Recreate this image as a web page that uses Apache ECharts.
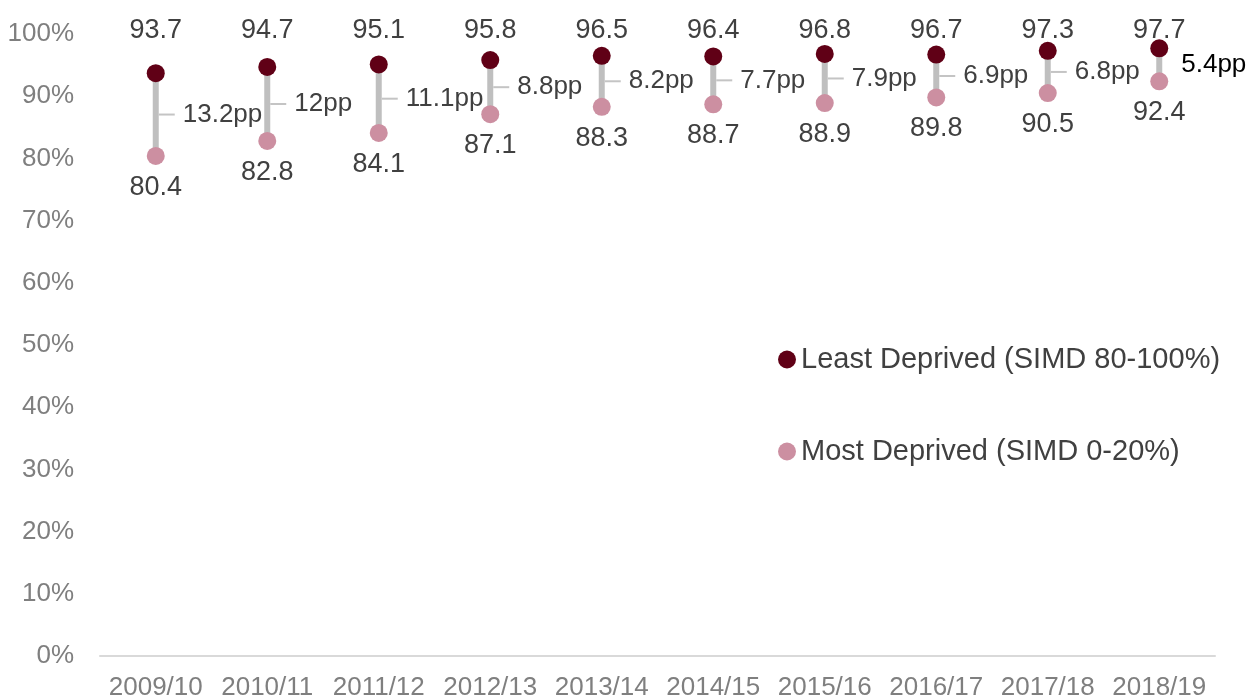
<!DOCTYPE html>
<html>
<head>
<meta charset="utf-8">
<script src="https://cdn.jsdelivr.net/npm/echarts@6/dist/echarts.min.js"></script>
<style>
html,body{margin:0;padding:0;background:#fff;}
#chart{width:1250px;height:697px;}
</style>
</head>
<body>
<div id="chart"></div>
<script>
const categories = ['2009/10','2010/11','2011/12','2012/13','2013/14','2014/15','2015/16','2016/17','2017/18','2018/19'];
const leastDeprived = [93.7, 94.7, 95.1, 95.8, 96.5, 96.4, 96.8, 96.7, 97.3, 97.7];
const mostDeprived = [80.4, 82.8, 84.1, 87.1, 88.3, 88.7, 88.9, 89.8, 90.5, 92.4];
const gapLabels = ['13.2', '12', '11.1', '8.8', '8.2', '7.7', '7.9', '6.9', '6.8', '5.4'];
const yTicks = [0, 10, 20, 30, 40, 50, 60, 70, 80, 90, 100];

const FONT = '"Liberation Sans", Arial, sans-serif';
const LEAST_COLOR = '#600016';
const MOST_COLOR = '#cc8fa1';

const gapData = categories.map((c, i) => [i, leastDeprived[i], mostDeprived[i], gapLabels[i]]);

const chart = echarts.init(document.getElementById('chart'));
chart.setOption({
  animation: false,
  backgroundColor: '#ffffff',
  grid: { left: 100, right: 35, top: 34, bottom: 41, containLabel: false, outerBoundsMode: 'none' },
  legend: {
    data: ['Least Deprived (SIMD 80-100%)', 'Most Deprived (SIMD 0-20%)'],
    orient: 'vertical',
    left: 773,
    top: 340,
    itemWidth: 18,
    itemHeight: 18,
    itemGap: 63,
    icon: 'circle',
    textStyle: { fontFamily: FONT, fontSize: 29, color: '#404040' }
  },
  xAxis: {
    type: 'category',
    data: categories,
    axisLine: { lineStyle: { color: '#d9d9d9', width: 2 } },
    axisTick: { show: false },
    axisLabel: { fontFamily: FONT, fontSize: 26, color: '#7f7f7f', margin: 19, interval: 0 },
    splitLine: { show: false }
  },
  yAxis: {
    type: 'value',
    min: 0,
    max: 100,
    interval: 10,
    axisLine: { show: false },
    axisTick: { show: false },
    splitLine: { show: false },
    axisLabel: {
      fontFamily: FONT, fontSize: 26, color: '#7f7f7f', margin: 26,
      formatter: v => (yTicks.indexOf(v) >= 0 ? v + '%' : '')
    }
  },
  series: [
    {
      name: 'Gap',
      type: 'custom',
      z: 1,
      data: gapData,
      encode: { x: 0, y: [1, 2] },
      renderItem: function (params, api) {
        const idx = api.value(0);
        const p1 = api.coord([idx, api.value(1)]);
        const p2 = api.coord([idx, api.value(2)]);
        const x = p1[0];
        const midY = (p1[1] + p2[1]) / 2;
        const isLast = params.dataIndex === categories.length - 1;
        const children = [
          {
            type: 'line',
            shape: { x1: x, y1: p1[1], x2: x, y2: p2[1] },
            style: { stroke: '#bfbfbf', lineWidth: 6 }
          }
        ];
        if (!isLast) {
          children.push({
            type: 'line',
            shape: { x1: x + 3, y1: midY, x2: x + 19, y2: midY },
            style: { stroke: '#c4c4c4', lineWidth: 2 }
          });
        }
        children.push({
          type: 'text',
          x: x + (isLast ? 22 : 27),
          y: midY,
          style: {
            text: gapLabels[params.dataIndex] + 'pp',
            fontFamily: FONT,
            fontSize: 26,
            fill: isLast ? '#000000' : '#404040',
            align: 'left',
            verticalAlign: 'middle'
          }
        });
        return { type: 'group', children: children };
      }
    },
    {
      name: 'Least Deprived (SIMD 80-100%)',
      type: 'scatter',
      z: 3,
      data: leastDeprived,
      symbol: 'circle',
      symbolSize: 18,
      itemStyle: { color: LEAST_COLOR, opacity: 1 },
      label: {
        show: true,
        position: 'top',
        fontFamily: FONT,
        fontSize: 27,
        color: '#404040',
        formatter: p => String(p.value)
      },
      labelLayout: { y: 31, verticalAlign: 'middle', align: 'center' }
    },
    {
      name: 'Most Deprived (SIMD 0-20%)',
      type: 'scatter',
      z: 3,
      data: mostDeprived,
      symbol: 'circle',
      symbolSize: 18,
      itemStyle: { color: MOST_COLOR, opacity: 1 },
      label: {
        show: true,
        position: 'bottom',
        distance: 9,
        fontFamily: FONT,
        fontSize: 27,
        color: '#404040',
        formatter: p => String(p.value)
      }
    }
  ]
});
</script>
</body>
</html>
